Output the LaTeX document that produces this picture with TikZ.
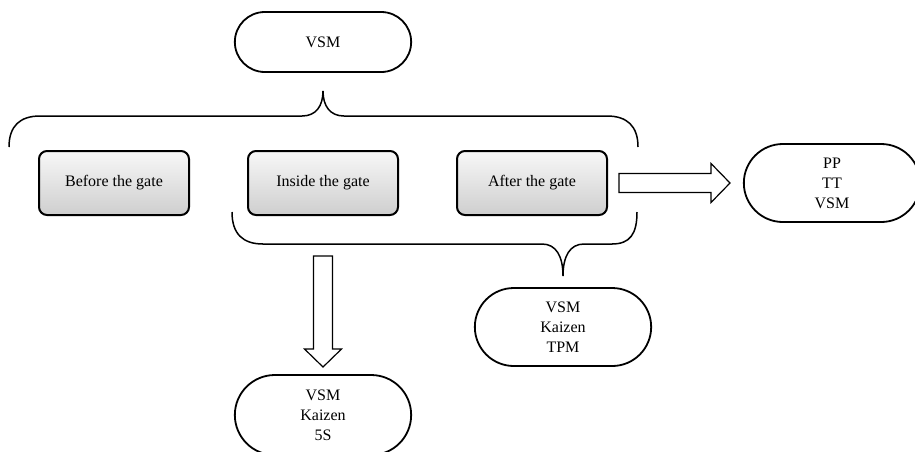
\documentclass[tikz,border=0pt]{standalone}
\usepackage{fontspec}
\setmainfont{Liberation Serif}
\usepackage{tikz}
\usetikzlibrary{shapes.misc}
\usetikzlibrary{calc}

\tikzset{
	gatebox/.style={draw, line width=2pt, rounded corners=8pt, top color=gray!6, bottom color=gray!38,
		minimum width=150pt, minimum height=64pt, font=\fontsize{16}{20}\selectfont},
	capsule/.style={draw, line width=1.8pt, rounded rectangle, minimum width=183pt, minimum height=78pt,
		align=center, font=\fontsize{16}{20}\selectfont},
	bracepath/.style={line width=1.5pt},
	blockarrow/.style={draw, line width=1.2pt, fill=white}
}

\begin{document}
\begin{tikzpicture}[x=1pt, y=-1pt]
	\useasboundingbox (0,0) rectangle (915,451);

	\node[capsule, minimum height=60pt] (vsm) at (323,42) {VSM};

	\node[gatebox] (before) at (114,183) {Before the gate};
	\node[gatebox] (inside) at (323,183) {Inside the gate};
	\node[gatebox] (after) at (532,183) {After the gate};

	\node[capsule] (pptt) at (832,183) {PP\\TT\\VSM};
	\node[capsule] (tpm) at (563,327) {VSM\\Kaizen\\TPM};
	\node[capsule, minimum height=80pt] (fives) at (323,415) {VSM\\Kaizen\\5S};

	% brace under VSM, over the three gates
	\coordinate (toptip) at ($(vsm.south)+(0,18)$);
	\draw[bracepath] (9,147) .. controls (9,126) and (20,116) .. (40,116) -- (302,116)
		.. controls (316,116) and (323,106) .. (toptip)
		.. controls (323,106) and (330,116) .. (344,116) -- (607,116)
		.. controls (627,116) and (638,126) .. (638,147);

	% brace under inside and after
	\coordinate (bottip) at ($(tpm.north)+(0,-11)$);
	\draw[bracepath] (232,212) .. controls (232,234) and (243,244) .. (263,244) -- (542,244)
		.. controls (556,244) and (563,256) .. (bottip)
		.. controls (563,256) and (570,244) .. (584,244) -- (612,244)
		.. controls (630,244) and (637,234) .. (637,212);

	\begin{scope}[shift={(after.east)}]
		\draw[blockarrow] (11,-9.5) -- (103,-9.5) -- (103,-19.5) -- (122,0) -- (103,19.5) -- (103,9.5) -- (11,9.5) -- cycle;
	\end{scope}
	\begin{scope}[shift={(inside.south)}]
		\draw[blockarrow] (-9.5,40) -- (9.5,40) -- (9.5,133) -- (18.5,133) -- (0,151) -- (-18.5,133) -- (-9.5,133) -- cycle;
	\end{scope}
\end{tikzpicture}
\end{document}
